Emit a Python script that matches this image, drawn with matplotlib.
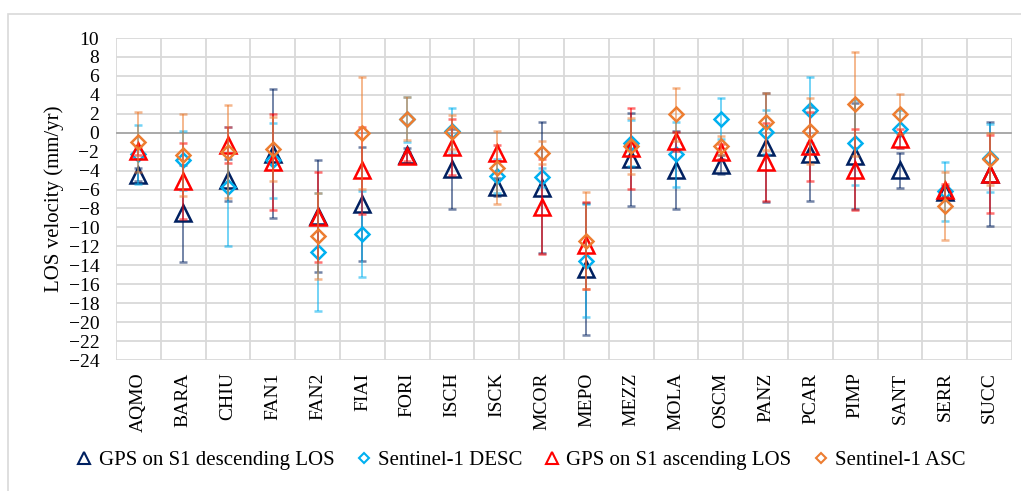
import numpy as np
import matplotlib
matplotlib.use("Agg")
import matplotlib.pyplot as plt
from matplotlib.colors import to_rgba
from matplotlib.patches import Rectangle
from matplotlib.lines import Line2D

# stazioni e velocità LOS (mm/yr)
stations = ["AQMO", "BARA", "CHIU", "FAN1", "FAN2", "FIAI", "FORI", "ISCH", "ISCK", "MCOR",
            "MEPO", "MEZZ", "MOLA", "OSCM", "PANZ", "PCAR", "PIMP", "SANT", "SERR", "SUCC"]

gps_desc = [-4.45, -8.5, -5.0, -2.2, -8.8, -7.5, -2.4, -3.85, -5.7, -5.8,
            -14.4, -2.8, -3.95, -3.4, -1.55, -2.25, -2.5, -3.95, -6.3, -4.4]
gps_desc_err = [0.7, 5.1, 2.25, 6.8, 5.9, 6.0, 0.8, 4.25, 0.95, 6.9,
                7.0, 4.9, 4.1, 1.0, 5.75, 5.0, 5.6, 1.85, 0.7, 5.5]

s1_desc = [-2.3, -2.9, -5.7, -2.9, -12.6, -10.7, 1.4, 0.18, -4.6, -4.7,
           -13.5, -1.1, -2.3, 1.5, 0.1, 2.4, -1.06, 0.35, -6.2, -2.7]
s1_desc_err = [3.1, 3.1, 6.3, 3.95, 6.2, 4.5, 2.35, 2.4, 1.8, 1.0,
               6.0, 2.45, 3.4, 2.15, 2.3, 3.5, 4.5, 2.0, 3.1, 3.6]

gps_asc = [-1.9, -5.1, -1.34, -3.1, -8.9, -3.95, -2.5, -1.5, -2.15, -7.8,
           -11.9, -1.65, -0.9, -2.0, -3.1, -1.45, -3.9, -0.63, -6.1, -4.37]
gps_asc_err = [0.5, 4.05, 1.9, 5.1, 4.7, 4.6, 0.5, 3.0, 0.8, 5.0,
               4.6, 4.25, 1.0, 0.8, 4.1, 3.6, 4.3, 1.0, 0.7, 4.15]

s1_asc = [-1.0, -2.36, -2.0, -1.7, -10.9, 0.0, 1.5, 0.1, -3.7, -2.1,
          -11.4, -1.4, 1.97, -1.37, 1.16, 0.18, 3.0, 1.97, -7.75, -2.8]
s1_asc_err = [3.2, 4.36, 4.9, 3.4, 4.55, 5.9, 2.3, 1.8, 3.85, 1.23,
              5.1, 3.0, 2.8, 1.0, 3.0, 3.5, 5.5, 2.1, 3.6, 2.75]

plt.rcParams["font.family"] = ["Liberation Serif", "DejaVu Serif"]

fig = plt.figure(figsize=(10.21, 4.91), dpi=100)
# cornice grigia del grafico (esce a destra e in basso)
fig.patches.append(Rectangle((8 / 1021, -0.2), 1.2, 1.2 - 14 / 491, transform=fig.transFigure,
                             fill=False, edgecolor="#D9D9D9", lw=1.2))
ax = fig.add_axes([116 / 1021, 1 - 360 / 491, (1012 - 116) / 1021, (360 - 38) / 491])

x = np.arange(len(stations))
series = [
    (gps_desc, gps_desc_err, "#002060", "^", 11, "GPS on S1 descending LOS"),
    (s1_desc, s1_desc_err, "#00B0F0", "D", 7, "Sentinel-1 DESC"),
    (gps_asc, gps_asc_err, "#FF0000", "^", 11, "GPS on S1 ascending LOS"),
    (s1_asc, s1_asc_err, "#ED7D31", "D", 7, "Sentinel-1 ASC"),
]
handles = []
for i, (vals, err, col, mk, ms, lab) in enumerate(series):
    ax.errorbar(x, vals, yerr=err, fmt=mk, ms=ms, mfc="none", mec=col, mew=1.8,
                ecolor=to_rgba(col, 0.55), elinewidth=1.4, capsize=3.2, capthick=1.4,
                zorder=3 + i)
    handles.append(Line2D([], [], ls="none", marker=mk, ms=ms * 0.75, mfc="none",
                          mec=col, mew=1.5, label=lab))

ax.set_xlim(-0.5, len(stations) - 0.5)
ax.set_ylim(-24, 10)
ax.set_yticks(np.arange(-24, 11, 2))
ax.set_xticks(x)
ax.set_xticklabels(stations, rotation=90, fontsize=14)
ax.tick_params(axis="y", labelsize=14, length=0, pad=12)
ax.tick_params(axis="x", length=0, pad=9)

for yv in np.arange(-24, 11, 2):
    ax.axhline(yv, color="#D9D9D9", lw=1.3, zorder=1)
for xv in np.arange(-0.5, len(stations), 1):
    ax.axvline(xv, color="#D9D9D9", lw=1.3, zorder=1)
ax.axhline(0, color="#A6A6A6", lw=1.3, zorder=2)
for s in ax.spines.values():
    s.set_visible(False)

ax.set_ylabel("LOS velocity (mm/yr)", fontsize=15, labelpad=3)

fig.legend(handles=handles, loc="center", bbox_to_anchor=(0.51, 0.063), ncol=4, frameon=False,
           fontsize=15, handlelength=0.8, handletextpad=0.3, columnspacing=1.0)

fig.savefig("out.png", dpi=100)
